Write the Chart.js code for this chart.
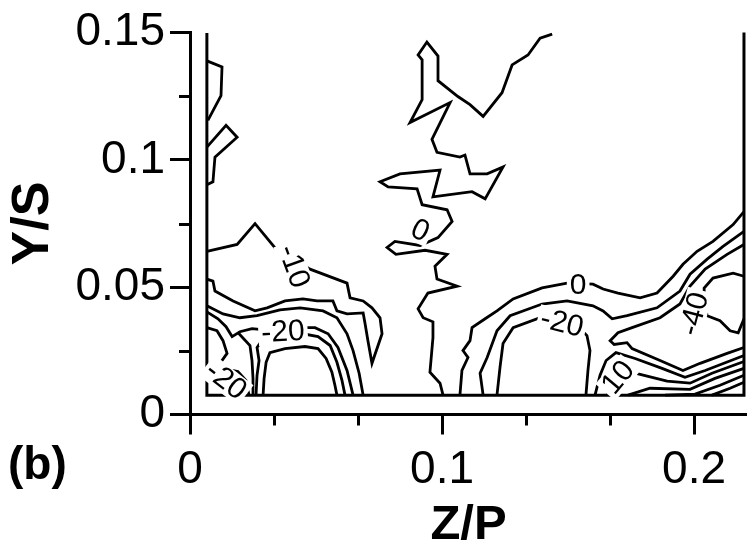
<!DOCTYPE html>
<html lang="en">
<head>
    <meta charset="UTF-8">
    <title>Z/P - Y/S contours</title>
    <script src="https://cdn.jsdelivr.net/npm/chart.js"></script>
    <style>
        body { margin: 0; background: #fff; }
        canvas { display: block; }
    </style>
</head>
<body>
    <canvas id="contourChart" width="747" height="551"></canvas>
    <script>
    // axis ticks
    const xTicks = [0, 0.1, 0.2];
    const xTickLabels = ['0', '0.1', '0.2'];
    const xMinorTicks = [0.0333, 0.0667, 0.1333, 0.1667];
    const yTicks = [0, 0.05, 0.1, 0.15];
    const yTickLabels = ['0', '0.05', '0.1', '0.15'];
    const yMinorTicks = [0.025, 0.075, 0.125];

    // measured domain outline [Z/P, Y/S]
    const domainEdge = [[0.0067, 0.1498], [0.0067, 0.0076], [0.2198, 0.0076], [0.2198, 0.1517]];

    // contour lines, each a list of [Z/P, Y/S]
    const topBump1 = [[0.0067, 0.1389], [0.0127, 0.1365], [0.0123, 0.1252], [0.0071, 0.1155]];
    const topBump2 = [[0.0067, 0.1050], [0.0143, 0.1136], [0.0187, 0.1089], [0.0099, 0.1011], [0.0091, 0.0914], [0.0067, 0.0902]];
    const zeroMiddle = [
        [0.1437, 0.1494], [0.1389, 0.1478], [0.1341, 0.1412], [0.1278, 0.1373], [0.1238, 0.1264], [0.1163, 0.1171],
        [0.1111, 0.1217], [0.1063, 0.1249], [0.0984, 0.1311], [0.0984, 0.1408], [0.0940, 0.1463], [0.0905, 0.1412],
        [0.0921, 0.1393], [0.0921, 0.1237], [0.0873, 0.1147], [0.1032, 0.1225], [0.0960, 0.1081], [0.0980, 0.1030],
        [0.1071, 0.1011], [0.1091, 0.1019], [0.1111, 0.0945], [0.1179, 0.0945], [0.1242, 0.0972], [0.1171, 0.0847],
        [0.1119, 0.0875], [0.0964, 0.0855], [0.0992, 0.0960], [0.0833, 0.0945], [0.0754, 0.0914], [0.0786, 0.0894],
        [0.0901, 0.0886], [0.0921, 0.0824], [0.1020, 0.0804], [0.1040, 0.0758], [0.0984, 0.0695], [0.0913, 0.0664],
        [0.0813, 0.0680], [0.0782, 0.0656], [0.0817, 0.0629], [0.0933, 0.0645], [0.1020, 0.0629], [0.0972, 0.0582],
        [0.0980, 0.0532], [0.1060, 0.0504], [0.0944, 0.0477], [0.0905, 0.0415], [0.0925, 0.0380], [0.0964, 0.0364],
        [0.0964, 0.0302], [0.0952, 0.0166], [0.0992, 0.0123], [0.1004, 0.0076]
    ];
    const tongueM10 = [
        [0.0067, 0.0641], [0.0187, 0.0668], [0.0258, 0.0750], [0.0349, 0.0641], [0.0421, 0.0606], [0.0476, 0.0571],
        [0.0623, 0.0516], [0.0635, 0.0458], [0.0687, 0.0446], [0.0722, 0.0419], [0.0754, 0.0380], [0.0762, 0.0317],
        [0.0722, 0.0201], [0.0706, 0.0290], [0.0694, 0.0360], [0.0687, 0.0399], [0.0623, 0.0395], [0.0583, 0.0407],
        [0.0567, 0.0446], [0.0504, 0.0446], [0.0448, 0.0454], [0.0377, 0.0446], [0.0306, 0.0419], [0.0258, 0.0407],
        [0.0171, 0.0446], [0.0099, 0.0485], [0.0091, 0.0524], [0.0067, 0.0532]
    ];
    const leftDome1 = [
        [0.0067, 0.0427], [0.0131, 0.0395], [0.0198, 0.0380], [0.0266, 0.0388], [0.0357, 0.0411], [0.0437, 0.0419],
        [0.0528, 0.0407], [0.0583, 0.0380], [0.0623, 0.0317], [0.0647, 0.0251], [0.0671, 0.0162], [0.0687, 0.0076]
    ];
    const leftDome2 = [
        [0.0067, 0.0403], [0.0111, 0.0376], [0.0143, 0.0345], [0.0167, 0.0306], [0.0198, 0.0325], [0.0246, 0.0337],
        [0.0286, 0.0333], [0.0369, 0.0333], [0.0452, 0.0341], [0.0496, 0.0341], [0.0548, 0.0317], [0.0587, 0.0263],
        [0.0623, 0.0173], [0.0647, 0.0076]
    ];
    const leftDome3 = [
        [0.0262, 0.0076], [0.0266, 0.0154], [0.0274, 0.0212], [0.0266, 0.0263], [0.0290, 0.0298], [0.0369, 0.0306],
        [0.0448, 0.0317], [0.0508, 0.0306], [0.0556, 0.0271], [0.0583, 0.0205], [0.0603, 0.0134], [0.0615, 0.0076]
    ];
    const leftDome4 = [
        [0.0290, 0.0076], [0.0294, 0.0142], [0.0302, 0.0205], [0.0317, 0.0243], [0.0377, 0.0259], [0.0456, 0.0267],
        [0.0508, 0.0259], [0.0540, 0.0220], [0.0563, 0.0166], [0.0575, 0.0115], [0.0583, 0.0076]
    ];
    const cornerBump = [[0.0067, 0.0341], [0.0107, 0.0329], [0.0131, 0.0290], [0.0147, 0.0240], [0.0119, 0.0201], [0.0067, 0.0185]];
    const cornerLeg = [[0.0190, 0.0322], [0.0238, 0.0271], [0.0246, 0.0212], [0.0250, 0.0142], [0.0250, 0.0076]];
    const cornerM20 = [[0.0067, 0.0166], [0.0127, 0.0181], [0.0190, 0.0169], [0.0222, 0.0134], [0.0234, 0.0076]];
    const zeroRight = [
        [0.1071, 0.0076], [0.1079, 0.0173], [0.1103, 0.0224], [0.1083, 0.0251], [0.1111, 0.0290], [0.1119, 0.0341],
        [0.1171, 0.0376], [0.1218, 0.0407], [0.1282, 0.0454], [0.1397, 0.0497], [0.1496, 0.0516], [0.1599, 0.0512],
        [0.1639, 0.0493], [0.1698, 0.0477], [0.1786, 0.0458], [0.1853, 0.0477], [0.1917, 0.0543], [0.1956, 0.0590],
        [0.2012, 0.0641], [0.2075, 0.0680], [0.2155, 0.0746], [0.2198, 0.0797]
    ];
    const rightBand2 = [
        [0.1163, 0.0076], [0.1151, 0.0162], [0.1179, 0.0224], [0.1218, 0.0329], [0.1270, 0.0388], [0.1397, 0.0434],
        [0.1496, 0.0446], [0.1599, 0.0427], [0.1639, 0.0407], [0.1675, 0.0376], [0.1734, 0.0388], [0.1853, 0.0419],
        [0.1944, 0.0485], [0.1984, 0.0551], [0.2052, 0.0610], [0.2115, 0.0660], [0.2198, 0.0719]
    ];
    const rightDomeM20 = [
        [0.1218, 0.0076], [0.1230, 0.0185], [0.1242, 0.0279], [0.1282, 0.0341], [0.1389, 0.0380], [0.1476, 0.0368],
        [0.1548, 0.0337], [0.1575, 0.0310], [0.1587, 0.0251], [0.1579, 0.0173], [0.1571, 0.0076]
    ];
    const rightLoop = [
        [0.2198, 0.0668], [0.2131, 0.0629], [0.2044, 0.0571], [0.1984, 0.0504], [0.1944, 0.0434], [0.1865, 0.0380],
        [0.1754, 0.0341], [0.1698, 0.0321], [0.1667, 0.0290], [0.1683, 0.0275], [0.1734, 0.0282], [0.1754, 0.0259],
        [0.1865, 0.0212], [0.1956, 0.0173], [0.2024, 0.0201], [0.2131, 0.0240], [0.2198, 0.0263]
    ];
    const rightCoreM40 = [
        [0.2198, 0.0543], [0.2155, 0.0555], [0.2075, 0.0536], [0.2040, 0.0497], [0.2040, 0.0446], [0.2052, 0.0388],
        [0.2103, 0.0368], [0.2143, 0.0329], [0.2175, 0.0321], [0.2198, 0.0376]
    ];
    const lowRight1 = [[0.1607, 0.0076], [0.1627, 0.0154], [0.1651, 0.0212], [0.1690, 0.0243], [0.1766, 0.0220], [0.1873, 0.0181], [0.1964, 0.0146], [0.2044, 0.0173], [0.2198, 0.0232]];
    const lowRight2 = [[0.1655, 0.0076], [0.1683, 0.0127], [0.1726, 0.0173], [0.1786, 0.0158], [0.1893, 0.0131], [0.1984, 0.0123], [0.2071, 0.0162], [0.2198, 0.0208]];
    const lowRight3 = [[0.1738, 0.0076], [0.1825, 0.0103], [0.1984, 0.0099], [0.2083, 0.0142], [0.2198, 0.0181]];
    const lowRight4 = [[0.1885, 0.0076], [0.2004, 0.0080], [0.2103, 0.0115], [0.2198, 0.0154]];
    const lowRight5 = [[0.2071, 0.0076], [0.2143, 0.0103], [0.2198, 0.0127]];

    // contour level labels: text, Z/P, Y/S, angle (deg)
    const levelLabels = [
        ['-10', 0.0413, 0.0582, 70],
        ['-20', 0.0369, 0.0325, -3],
        ['-20', 0.0143, 0.0134, 38],
        ['0', 0.0913, 0.0723, 25],
        ['0', 0.1540, 0.0508, 0],
        ['-20', 0.1476, 0.0360, 14],
        ['-40', 0.2000, 0.0395, -75],
        ['10', 0.1698, 0.0146, -50]
    ];

    const contourLines = [
        topBump1, topBump2, zeroMiddle, tongueM10, leftDome1, leftDome2, leftDome3, leftDome4,
        cornerBump, cornerLeg, cornerM20, zeroRight, rightBand2, rightDomeM20, rightLoop, rightCoreM40,
        lowRight1, lowRight2, lowRight3, lowRight4, lowRight5
    ];

    const FONT = "'Liberation Sans', Arial, sans-serif";
    Chart.defaults.font.family = FONT;
    Chart.defaults.color = '#000';

    function toPoints(line) {
        return line.map(([z, y]) => ({ x: z, y: y }));
    }

    const datasets = contourLines.map(line => ({
        data: toPoints(line),
        showLine: true,
        borderColor: '#000',
        borderWidth: 2.8,
        pointRadius: 0,
        fill: false,
        tension: 0
    }));
    datasets.push({
        data: toPoints(domainEdge),
        showLine: true,
        borderColor: '#000',
        borderWidth: 3,
        pointRadius: 0,
        fill: false
    });

    // minor ticks, level labels and panel letter
    const extras = {
        id: 'extras',
        afterDatasetsDraw(chart) {
            const { ctx, scales: { x, y } } = chart;
            ctx.save();
            ctx.font = '30px ' + FONT;
            ctx.textAlign = 'center';
            ctx.textBaseline = 'middle';
            levelLabels.forEach(([text, z, yv, ang]) => {
                const px = x.getPixelForValue(z);
                const py = y.getPixelForValue(yv);
                const w = ctx.measureText(text).width;
                ctx.save();
                ctx.translate(px, py);
                ctx.rotate(ang * Math.PI / 180);
                ctx.fillStyle = '#fff';
                ctx.fillRect(-w / 2 - 3, -13, w + 6, 26);
                ctx.fillStyle = '#000';
                ctx.fillText(text, 0, 1);
                ctx.restore();
            });
            ctx.restore();
        },
        afterDraw(chart) {
            const { ctx, chartArea, scales: { x, y } } = chart;
            ctx.save();
            ctx.strokeStyle = '#000';
            ctx.lineWidth = 3;
            ctx.beginPath();
            xMinorTicks.forEach(v => {
                const px = Math.round(x.getPixelForValue(v)) + 0.5;
                ctx.moveTo(px, chartArea.bottom);
                ctx.lineTo(px, chartArea.bottom + 11);
            });
            yMinorTicks.forEach(v => {
                const py = Math.round(y.getPixelForValue(v)) + 0.5;
                ctx.moveTo(chartArea.left - 11, py);
                ctx.lineTo(chartArea.left, py);
            });
            ctx.stroke();
            ctx.fillStyle = '#000';
            ctx.font = 'bold 46px ' + FONT;
            ctx.textBaseline = 'middle';
            ctx.textAlign = 'left';
            ctx.fillText('(b)', 8, 466);
            ctx.restore();
        }
    };

    new Chart(document.getElementById('contourChart'), {
        type: 'scatter',
        data: { datasets },
        options: {
            responsive: false,
            animation: false,
            devicePixelRatio: 1,
            events: [],
            layout: { padding: { top: 29.5, left: 0, right: 0, bottom: 0 } },
            plugins: { legend: { display: false }, tooltip: { enabled: false } },
            scales: {
                x: {
                    type: 'linear',
                    min: 0,
                    max: 0.221,
                    afterBuildTicks: axis => { axis.ticks = xTicks.map(v => ({ value: v })); },
                    afterFit: axis => { axis.height = 136.5; },
                    ticks: {
                        callback: (v, i) => xTickLabels[i],
                        font: { size: 46 },
                        color: '#000',
                        padding: 8,
                        maxRotation: 0,
                        autoSkip: false
                    },
                    grid: { drawOnChartArea: false, tickLength: 20, tickWidth: 3, tickColor: '#000' },
                    border: { display: true, color: '#000', width: 3 },
                    title: {
                        display: true,
                        text: 'Z/P',
                        color: '#000',
                        font: { size: 49, weight: 'bold', lineHeight: 1 },
                        padding: { top: 0, bottom: 1.5 }
                    }
                },
                y: {
                    type: 'linear',
                    min: 0,
                    max: 0.15,
                    afterBuildTicks: axis => { axis.ticks = yTicks.map(v => ({ value: v })); },
                    afterFit: axis => { axis.width = 190; },
                    ticks: {
                        callback: (v, i) => yTickLabels[i],
                        font: { size: 46 },
                        color: '#000',
                        padding: 5,
                        autoSkip: false
                    },
                    grid: { drawOnChartArea: false, tickLength: 20, tickWidth: 3, tickColor: '#000' },
                    border: { display: true, color: '#000', width: 3 },
                    title: {
                        display: true,
                        text: 'Y/S',
                        color: '#000',
                        font: { size: 52, weight: 'bold', lineHeight: 1 },
                        padding: { top: 8, bottom: 0 }
                    }
                }
            }
        },
        plugins: [extras]
    });
    </script>
</body>
</html>
